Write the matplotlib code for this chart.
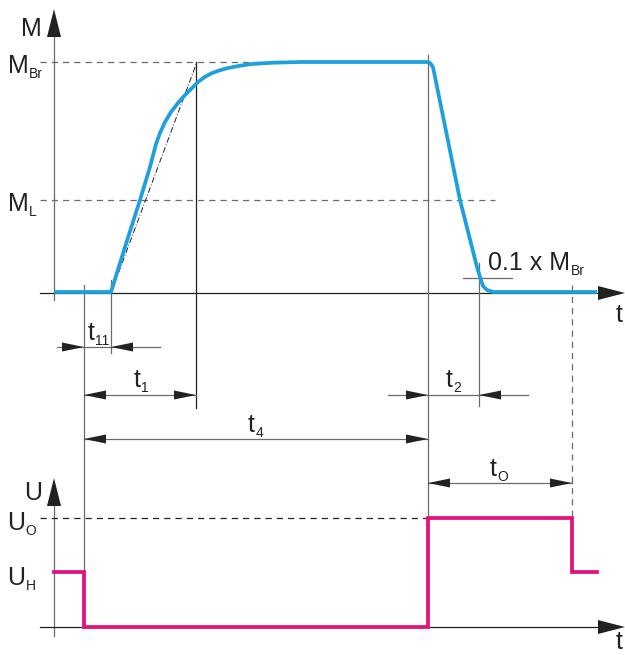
import numpy as np
import matplotlib
matplotlib.use("Agg")
from matplotlib import pyplot as plt
from matplotlib.patches import Polygon

plt.rcParams['font.family'] = ['Liberation Sans', 'DejaVu Sans']

# diagram works in pixel units of the original sketch (y grows downwards)
# braking torque curve M(t)
m_x = [54, 111, 125, 140, 150, 156, 160, 165, 171, 178, 185, 192, 198, 204, 211, 219, 228, 240, 252, 273, 300,
       427, 430, 433, 460, 477, 480, 483, 487, 493, 597]
m_y = [292, 292, 247, 200, 167, 144, 133, 122, 112, 103, 95, 88, 82, 77.5, 73.5, 70.5, 68, 65.7, 64, 62.7, 62,
       62, 63, 67, 200, 267, 277, 286, 290, 292, 292]

# tangent for t1 (dash-dot)
tan_x = [111, 197]
tan_y = [293, 62]

# voltage U(t)
u_x = [54, 84, 84, 428, 428, 572, 572, 597]
u_y = [572, 572, 627, 627, 518, 518, 572, 572]

# levels
lvl_MBr = 62
lvl_ML = 200
lvl_M0 = 293
lvl_UO = 518
lvl_UH = 572
lvl_U0 = 627

# time marks
t_start = 84
t_11 = 111
t_1 = 196
t_4 = 428
t_2 = 479
t_O = 572

BLUE = '#1ea0de'
PINK = '#e2127c'
GRAY = '#6a6a6a'
DARK = '#222222'

fig = plt.figure(figsize=(6.25, 6.55), dpi=100)
ax = fig.add_axes([0, 0, 1, 1])
ax.set_xlim(0, 625)
ax.set_ylim(655, 0)
ax.axis('off')
renderer = fig.canvas.get_renderer()


def head(x, y, d, length=22, half=4.5, color=DARK):
    # filled arrow head, tip at (x, y), d in 'r','l','u'
    if d == 'r':
        pts = [(x, y), (x - length, y - half), (x - length, y + half)]
    elif d == 'l':
        pts = [(x, y), (x + length, y - half), (x + length, y + half)]
    else:
        pts = [(x, y), (x - half, y + length), (x + half, y + length)]
    ax.add_patch(Polygon(pts, closed=True, color=color, lw=0, zorder=5))


def label(x, y, main, sub, size=18, subsize=10, gap=0.5, drop=5):
    t = ax.text(x, y, main, fontsize=size, color=DARK, ha='left', va='baseline')
    bb = t.get_window_extent(renderer=renderer)
    x1 = ax.transData.inverted().transform((bb.x1, bb.y0))[0]
    ax.text(x1 + gap, y + drop, sub, fontsize=subsize, color=DARK, ha='left', va='baseline')


# axes of upper chart
ax.plot([54, 54], [34, 300], color=GRAY, lw=0.9)
head(54, 9, 'u', length=28, half=7)
ax.plot([40, 602], [lvl_M0, lvl_M0], color=DARK, lw=0.9)
head(625, lvl_M0, 'r', length=27, half=7)

# reference levels
ax.plot([40, 430], [lvl_MBr, lvl_MBr], color=GRAY, lw=0.9, ls=(0, (5, 4)))
ax.plot([40, 495], [lvl_ML, lvl_ML], color=GRAY, lw=0.9, ls=(0, (5, 4)))

# vertical reference lines
ax.plot([t_start, t_start], [285, 628], color=GRAY, lw=0.9)
ax.plot([t_11, t_11], [280, 353], color=GRAY, lw=0.9)
ax.plot([t_1, t_1], [62, 408], color=DARK, lw=0.9)
ax.plot([t_4, t_4], [55, 518], color=GRAY, lw=0.9)
ax.plot([t_2, t_2], [263, 406], color=GRAY, lw=0.9)
ax.plot([t_O, t_O], [285, 575], color=GRAY, lw=0.9, ls=(0, (5, 4)))
ax.plot([463, 512], [278, 278], color=GRAY, lw=0.9)

# tangent and torque curve
ax.plot(tan_x, tan_y, color=DARK, lw=0.7, ls=(0, (6, 2, 1, 2)))
ax.plot(m_x, m_y, color=BLUE, lw=2.7, solid_capstyle='butt', solid_joinstyle='round', zorder=4)

# dimension lines
ax.plot([57, 160], [347, 347], color=GRAY, lw=0.9)
head(t_start, 347, 'r')
head(t_11, 347, 'l')
ax.plot([t_start, t_1], [395, 395], color=GRAY, lw=0.9)
head(t_start, 395, 'l')
head(t_1, 395, 'r')
ax.plot([t_start, t_4], [439, 439], color=GRAY, lw=0.9)
head(t_start, 439, 'l')
head(t_4, 439, 'r')
ax.plot([388, 528], [395, 395], color=GRAY, lw=0.9)
head(t_4, 395, 'r')
head(t_2, 395, 'l')
ax.plot([t_4, t_O], [483, 483], color=GRAY, lw=0.9)
head(t_4, 483, 'l')
head(t_O, 483, 'r')

# lower chart axes
ax.plot([54, 54], [503, 636], color=GRAY, lw=0.9)
head(54, 478, 'u', length=28, half=7)
ax.plot([40, 602], [lvl_U0, lvl_U0], color=DARK, lw=0.9)
head(625, lvl_U0, 'r', length=27, half=7)
ax.plot([40, 428], [lvl_UO, lvl_UO], color=DARK, lw=0.9, ls=(0, (5, 4)))
ax.plot(u_x, u_y, color=PINK, lw=2.7, solid_joinstyle='miter', zorder=4)

# texts
ax.text(21, 36, 'M', fontsize=18, color=DARK, ha='left', va='baseline')
label(8, 73, 'M', 'Br')
label(8, 211, 'M', 'L')
label(488, 270, '0.1 x M', 'Br')
ax.text(616, 322, 't', fontsize=18, color=DARK, ha='left', va='baseline')
label(88, 340, 't', '11')
label(134, 387, 't', '1')
label(248, 432, 't', '4')
label(446, 387, 't', '2')
label(490, 476, 't', 'O')
ax.text(24, 500, 'U', fontsize=18, color=DARK, ha='left', va='baseline')
label(7, 530, 'U', 'O')
label(7, 585, 'U', 'H')
ax.text(616, 649, 't', fontsize=18, color=DARK, ha='left', va='baseline')

fig.savefig('out.png', dpi=100)
